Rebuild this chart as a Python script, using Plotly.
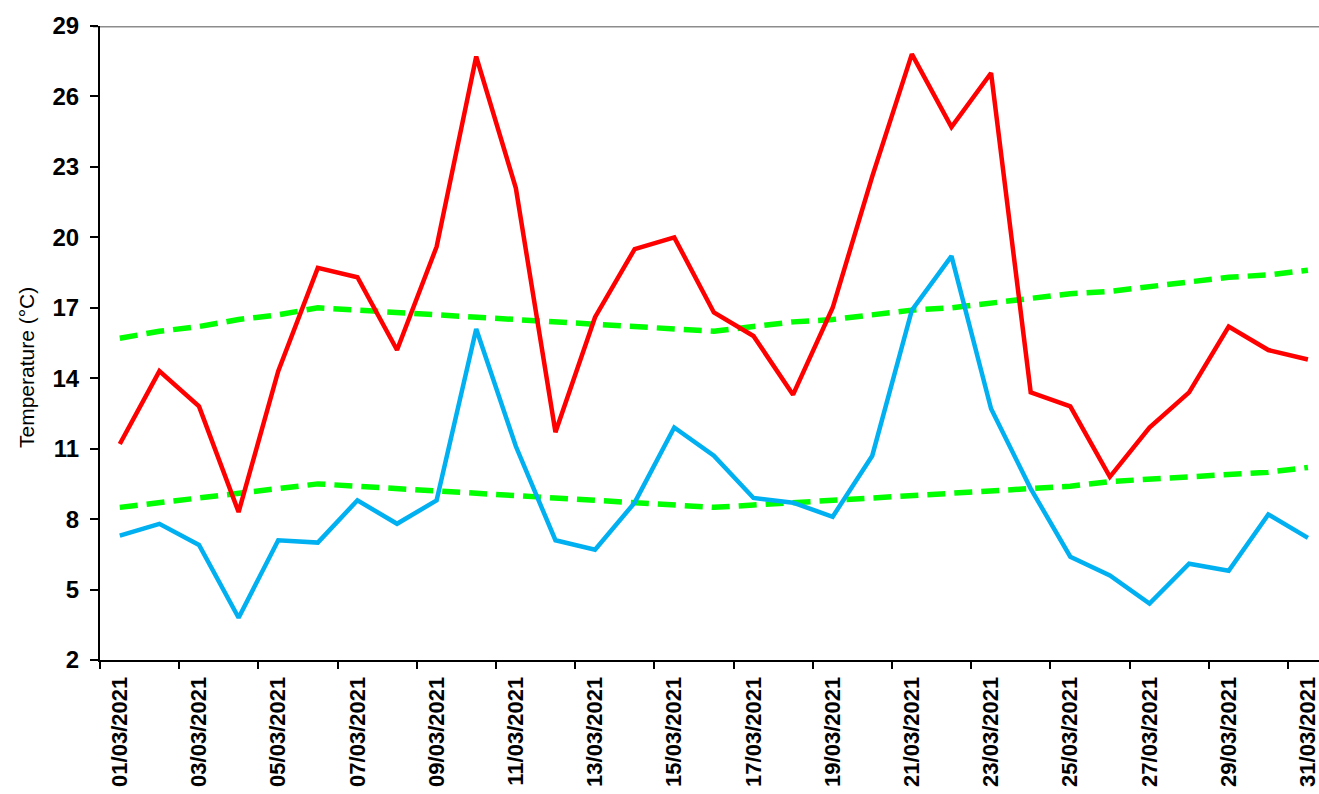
import plotly.graph_objects as go

dates = ["01/03/2021", "02/03/2021", "03/03/2021", "04/03/2021", "05/03/2021",
         "06/03/2021", "07/03/2021", "08/03/2021", "09/03/2021", "10/03/2021",
         "11/03/2021", "12/03/2021", "13/03/2021", "14/03/2021", "15/03/2021",
         "16/03/2021", "17/03/2021", "18/03/2021", "19/03/2021", "20/03/2021",
         "21/03/2021", "22/03/2021", "23/03/2021", "24/03/2021", "25/03/2021",
         "26/03/2021", "27/03/2021", "28/03/2021", "29/03/2021", "30/03/2021",
         "31/03/2021"]

t_max = [11.2, 14.3, 12.8, 8.3, 14.3, 18.7, 18.3, 15.2, 19.6, 27.7,
         22.1, 11.7, 16.6, 19.5, 20.0, 16.8, 15.8, 13.3, 17.0, 22.6,
         27.8, 24.7, 27.0, 13.4, 12.8, 9.8, 11.9, 13.4, 16.2, 15.2, 14.8]

t_min = [7.3, 7.8, 6.9, 3.8, 7.1, 7.0, 8.8, 7.8, 8.8, 16.1,
         11.1, 7.1, 6.7, 8.7, 11.9, 10.7, 8.9, 8.7, 8.1, 10.7,
         16.9, 19.2, 12.7, 9.3, 6.4, 5.6, 4.4, 6.1, 5.8, 8.2, 7.2]

normal_max = [15.7, 16.0, 16.2, 16.5, 16.7, 17.0, 16.9, 16.8, 16.7, 16.6,
              16.5, 16.4, 16.3, 16.2, 16.1, 16.0, 16.2, 16.4, 16.5, 16.7,
              16.9, 17.0, 17.2, 17.4, 17.6, 17.7, 17.9, 18.1, 18.3, 18.4, 18.6]

normal_min = [8.5, 8.7, 8.9, 9.1, 9.3, 9.5, 9.4, 9.3, 9.2, 9.1,
              9.0, 8.9, 8.8, 8.7, 8.6, 8.5, 8.6, 8.7, 8.8, 8.9,
              9.0, 9.1, 9.2, 9.3, 9.4, 9.6, 9.7, 9.8, 9.9, 10.0, 10.2]

y_ticks = [2, 5, 8, 11, 14, 17, 20, 23, 26, 29]

days = list(range(1, len(dates) + 1))
FONT = "Liberation Sans, Arial, sans-serif"

fig = go.Figure()
fig.add_trace(go.Scatter(x=days, y=normal_max, mode="lines",
                         line=dict(color="#00FF00", width=5.5, dash="18px,9px"),
                         name="Normal max"))
fig.add_trace(go.Scatter(x=days, y=normal_min, mode="lines",
                         line=dict(color="#00FF00", width=5.5, dash="18px,9px"),
                         name="Normal min"))
fig.add_trace(go.Scatter(x=days, y=t_max, mode="lines",
                         line=dict(color="#FF0000", width=4.5), name="Max"))
fig.add_trace(go.Scatter(x=days, y=t_min, mode="lines",
                         line=dict(color="#00B0F0", width=4.5), name="Min"))

fig.add_shape(type="line", xref="paper", yref="y", x0=-7 / 1219, x1=1,
              y0=29, y1=29, line=dict(color="#8C8C8C", width=3), layer="below")

fig.add_annotation(text="Temperature (°C)", xref="paper", yref="paper",
                   x=(26 - 100) / 1219, y=(660 - 368) / 634, textangle=-90,
                   showarrow=False, xanchor="center", yanchor="middle",
                   font=dict(family=FONT, size=21, color="black"))

fig.update_layout(
    width=1319, height=794,
    margin=dict(l=100, r=0, t=26, b=134, autoexpand=False),
    plot_bgcolor="white", paper_bgcolor="white",
    showlegend=False,
    font=dict(family=FONT, color="black"),
    xaxis=dict(
        range=[0.5, 31.28],
        tickmode="array", tickvals=days[::2], ticktext=dates[::2],
        tickangle=-90, ticks="", showgrid=False, zeroline=False,
        tickfont=dict(family=FONT, size=22, color="black", weight="bold"),
        showline=True, linecolor="black", linewidth=2,
        ticklabelstandoff=6, automargin=False, ticklabeloverflow="allow",
        minor=dict(tick0=0.5, dtick=2, ticks="outside", ticklen=7,
                   tickcolor="black", tickwidth=1.5, showgrid=False),
    ),
    yaxis=dict(
        range=[2, 29], tickmode="array", tickvals=y_ticks,
        ticks="outside", ticklen=8, tickcolor="black", tickwidth=1.5,
        showgrid=False, zeroline=False,
        showline=True, linecolor="black", linewidth=2,
        tickfont=dict(family=FONT, size=24, color="black", weight="bold"),
        ticklabelstandoff=6, automargin=False,
    ),
)

fig.write_html(
    "out.html",
    config={"displayModeBar": False},
    post_script="document.body.style.margin='0px';"
                "document.body.style.overflow='hidden';",
)
